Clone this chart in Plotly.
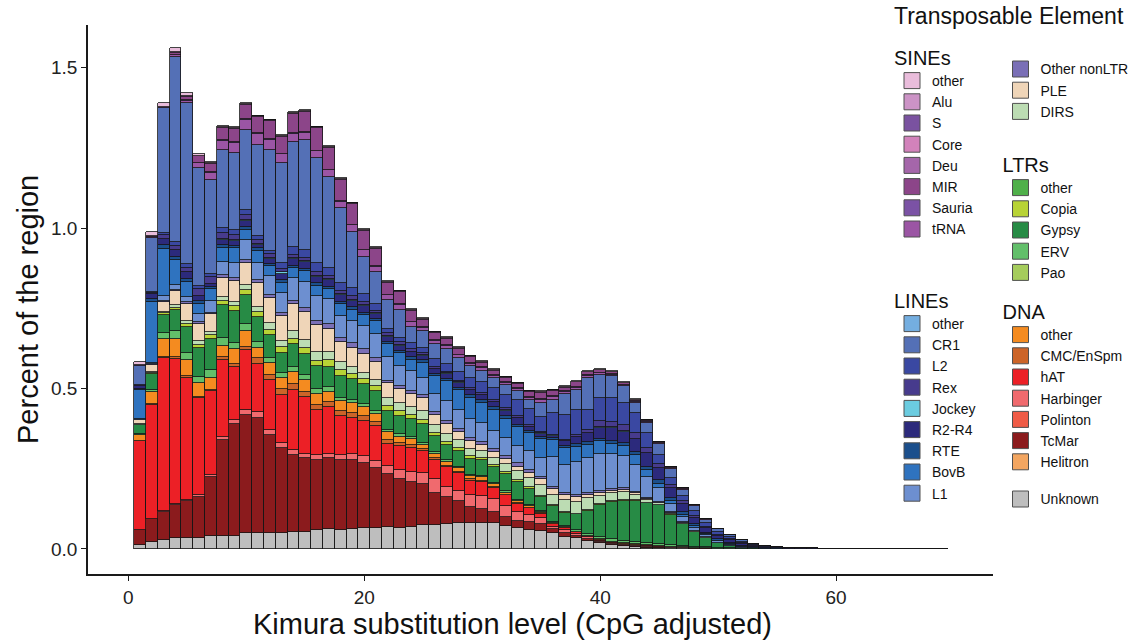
import plotly.graph_objects as go

FONT = "Liberation Sans, Arial, Helvetica, sans-serif"

# Kimura substitution level bins (x)
bins = list(range(1, 70))

# ---- series values (percent of region), bins 1..69 ----
unknown = [.012,.022,.028,.034,.034,.034,.039,.039,.039,.049,
           .049,.049,.049,.054,.054,.059,.061,.059,.062,.064,
           .066,.068,.064,.069,.074,.076,.079,.08,.08,.08,
           .08,.072,.064,.058,.055,.049,.038,.033,.024,.018,
           .013,.009,.006,.004,.003,.002,.002,.001,.001,0,
           0,0,0,0,0,0,0,0,0,0,
           0,0,0,0,0,0,0,0,0]
helitron = [0,0,0,0,0,0,0,0,0,0, 0,0,0,0,0,0,0,0,0,0, 0,0,0,0,0,0,0,0,0,0,
            0,0,0,0,0,0,0,0,0,0, 0,0,0,0,0,0,0,0,0,0, 0,0,0,0,0,0,0,0,0,0, 0,0,0,0,0,0,0,0,0]
tcmar = [.047,.07,.088,.103,.115,.129,.186,.30,.35,.368,
         .358,.306,.265,.239,.228,.218,.221,.218,.215,.205,
         .185,.166,.155,.14,.129,.098,.082,.068,.05,.045,
         .035,.028,.022,.025,.022,.012,.012,.008,.007,.005,
         .004,.004,.003,.003,.003,.002,.002,.001,.001,.001,
         .001,0,0,0,0,0,0,0,0,0,
         0,0,0,0,0,0,0,0,0]
polinton = [0,0,0,0,0,0,0,0,0,0, 0,0,0,0,0,0,0,0,0,0, 0,0,0,0,0,0,0,0,0,0,
            0,0,0,0,0,0,0,0,0,0, 0,0,0,0,0,0,0,0,0,0, 0,0,0,0,0,0,0,0,0,0, 0,0,0,0,0,0,0,0,0]
harbinger = [0,.002,.003,.004,.005,.006,.007,.01,.012,.016,
             .021,.016,.016,.015,.015,.015,.015,.016,.018,.02,
             .022,.026,.028,.031,.033,.045,.033,.034,.038,.04,
             .04,.035,.03,.024,.018,.008,.008,.006,.005,.003,
             .003,.002,.002,.002,.001,.001,.001,.001,0,0,
             0,0,0,0,0,0,0,0,0,0,
             0,0,0,0,0,0,0,0,0]
hat = [.277,.355,.475,.452,.38,.30,.26,.24,.166,.187,
       .15,.156,.15,.187,.177,.14,.146,.12,.114,.11,
       .11,.068,.073,.075,.068,.057,.06,.055,.045,.045,
       .035,.032,.025,.02,.015,.008,.008,.005,.004,.003,
       .002,.002,.002,.002,.002,.001,.001,.001,.001,0,
       0,0,0,0,0,0,0,0,0,0,
       0,0,0,0,0,0,0,0,0]
cmc = [.002,.003,.004,.004,.004,.004,.005,.008,.008,.01,
       .016,.016,.02,.02,.016,.016,.016,.016,.015,.014,
       .013,.012,.01,.009,.007,.006,.005,.004,.004,.003,
       .003,.002,.002,.002,.002,.001,.001,.001,.001,0,
       0,0,0,0,0,0,0,0,0,0,
       0,0,0,0,0,0,0,0,0,0,
       0,0,0,0,0,0,0,0,0]
dna_other = [.016,.036,.055,.057,.05,.043,.036,.036,.047,.05,
             .031,.036,.032,.037,.037,.036,.031,.031,.03,.028,
             .026,.024,.02,.018,.014,.013,.012,.011,.01,.01,
             .008,.007,.006,.004,.002,.002,.002,.001,.001,.001,
             .001,.001,.001,.001,.001,.001,0,0,0,0,
             0,0,0,0,0,0,0,0,0,0,
             0,0,0,0,0,0,0,0,0]
pao = [0,0,0,0,0,0,0,0,0,0, 0,0,0,0,0,0,0,0,0,0, 0,0,0,0,0,0,0,0,0,0,
       0,0,0,0,0,0,0,0,0,0, 0,0,0,0,0,0,0,0,0,0, 0,0,0,0,0,0,0,0,0,0, 0,0,0,0,0,0,0,0,0]
erv = [.004,.008,.02,.024,.024,.021,.026,.026,.021,.021,
       .021,.016,.016,.016,.016,.016,.016,.012,.01,.01,
       .009,.007,.007,.006,.006,.006,.005,.005,.005,.005,
       .005,.005,.005,.005,.004,.004,.004,.004,.004,.008,
       .008,.008,.007,.006,.006,.005,.004,.003,.002,.001,
       .001,0,0,0,0,0,0,0,0,0,
       0,0,0,0,0,0,0,0,0]
gypsy = [.028,.05,.056,.066,.08,.09,.095,.10,.10,.09,
         .076,.072,.062,.07,.065,.07,.062,.067,.065,.063,
         .062,.06,.058,.056,.06,.05,.048,.048,.048,.048,
         .05,.052,.055,.05,.045,.05,.04,.05,.073,.099,
         .115,.125,.13,.125,.12,.095,.068,.045,.03,.018,
         .008,.004,.002,.001,.001,0,0,0,0,0,
         0,0,0,0,0,0,0,0,0]
copia = [.001,.003,.005,.008,.008,.01,.012,.014,.015,.016,
         .018,.016,.018,.016,.018,.016,.02,.018,.016,.016,
         .015,.015,.014,.013,.012,.011,.01,.01,.009,.008,
         .007,.006,.005,.004,.003,.003,.003,.002,.002,.002,
         .002,.002,.002,.001,.001,.001,.001,.001,0,0,
         0,0,0,0,0,0,0,0,0,0,
         0,0,0,0,0,0,0,0,0]
ltr_other = [0,0,0,0,0,0,0,0,0,0, 0,0,0,0,0,0,0,0,0,0, 0,0,0,0,0,0,0,0,0,0,
             0,0,0,0,0,0,0,0,0,0, 0,0,0,0,0,0,0,0,0,0, 0,0,0,0,0,0,0,0,0,0, 0,0,0,0,0,0,0,0,0]
dirs = [.002,.004,.006,.008,.01,.01,.01,.012,.012,.015,
        .015,.02,.02,.025,.025,.028,.025,.025,.022,.02,
        .02,.026,.026,.025,.026,.024,.024,.024,.022,.02,
        .022,.025,.028,.03,.032,.031,.037,.037,.037,.026,
        .025,.026,.016,.01,.005,.003,.002,.001,.001,0,
        0,0,0,0,0,0,0,0,0,0,
        0,0,0,0,0,0,0,0,0]
ple = [.012,.02,.03,.045,.055,.055,.055,.06,.065,.07,
       .073,.078,.077,.083,.088,.083,.073,.062,.06,.058,
       .055,.045,.045,.042,.042,.032,.031,.026,.025,.02,
       .018,.016,.015,.016,.02,.02,.016,.016,.01,.01,
       .008,.006,.004,.003,.002,.001,.001,.001,0,0,
       0,0,0,0,0,0,0,0,0,0,
       0,0,0,0,0,0,0,0,0]
other_nonltr = [.002,.002,.003,.003,.004,.005,.006,.008,.008,.01,
                .01,.012,.012,.012,.012,.012,.015,.015,.014,.014,
                .013,.008,.008,.008,.01,.01,.01,.01,.01,.01,
                .01,.01,.01,.008,.006,.006,.006,.006,.006,.005,
                .005,.004,.004,.003,.003,.002,.002,.001,.001,0,
                0,0,0,0,0,0,0,0,0,0,
                0,0,0,0,0,0,0,0,0]
l1 = [.003,.005,.015,.015,.016,.025,.036,.04,.047,.062,
      .052,.057,.062,.07,.08,.08,.078,.068,.07,.072,
      .075,.073,.062,.062,.052,.055,.062,.058,.06,.06,
      .055,.057,.055,.06,.061,.093,.087,.103,.108,.115,
      .11,.1,.085,.065,.042,.025,.016,.01,.006,.004,
      .003,.002,.001,0,0,0,0,0,0,0,
      0,0,0,0,0,0,0,0,0]
bovb = [.088,.19,.146,.078,.047,.032,.036,.046,.047,.03,
        .039,.031,.031,.031,.035,.031,.031,.035,.035,.035,
        .038,.04,.04,.036,.047,.055,.062,.062,.065,.062,
        .065,.058,.057,.055,.058,.052,.053,.047,.042,.041,
        .032,.031,.03,.022,.015,.01,.007,.005,.003,.002,
        .002,.001,0,0,0,0,0,0,0,0,
        0,0,0,0,0,0,0,0,0]
rte = [.006,.01,.012,.01,.01,.008,.006,.008,.008,.008,
       .008,.008,.008,.008,.008,.008,.008,.008,.008,.008,
       .008,.008,.008,.008,.008,.008,.008,.008,.008,.008,
       .008,.008,.008,.007,.006,.006,.007,.008,.008,.008,
       .01,.01,.01,.01,.012,.01,.008,.006,.005,.004,
       .003,.002,.002,.001,.001,.001,.001,.001,0,0,
       0,0,0,0,0,0,0,0,0]
r2r4 = [.008,.016,.02,.02,.02,.015,.01,.015,.015,.02,
        .01,.015,.02,.02,.02,.02,.02,.02,.02,.02,
        .015,.016,.016,.015,.014,.014,.014,.014,.015,.015,
        .016,.018,.02,.012,.01,.008,.014,.022,.03,.034,
        .04,.036,.04,.042,.035,.03,.024,.02,.014,.012,
        .01,.008,.005,.004,.003,.002,.002,.001,.001,.001,
        .001,.001,.001,.001,.001,.001,.001,.001,.001]
jockey = [0,0,.001,.001,.002,.002,.002,.003,.003,.004,
          .005,.004,.004,.004,.004,.004,.004,.004,.003,.003,
          .003,.002,.002,.002,.002,.002,.002,.002,.002,.002,
          .002,.002,.002,.001,.001,.001,.001,.001,.001,.001,
          .001,.001,.001,.001,.001,.001,.001,.001,0,0,
          0,0,0,0,0,0,0,0,0,0,
          0,0,0,0,0,0,0,0,0]
rex = [.002,.003,.01,.012,.012,.02,.02,.02,.015,.015,
       .01,.01,.01,.01,.01,.01,.01,.01,.01,.01,
       .008,.008,.008,.008,.006,.006,.006,.006,.006,.006,
       .006,.006,.006,.005,.004,.002,.004,.005,.008,.02,
       .018,.02,.018,.015,.012,.01,.008,.006,.004,.003,
       .002,.002,.001,.001,0,0,0,0,0,0,
       0,0,0,0,0,0,0,0,0]
l2 = [.002,.003,.008,.012,.012,.012,.01,.015,.015,.015,
      .012,.012,.02,.025,.025,.03,.025,.025,.025,.025,
      .02,.014,.015,.018,.015,.025,.025,.028,.03,.033,
      .036,.04,.05,.05,.047,.067,.078,.078,.062,.073,
      .073,.067,.062,.045,.03,.022,.018,.014,.012,.008,
      .006,.004,.003,.002,.001,.001,0,0,0,0,
      0,0,0,0,0,0,0,0,0]
cr1 = [.058,.167,.388,.578,.501,.365,.293,.243,.24,.25,
       .285,.314,.31,.327,.342,.325,.283,.233,.177,.116,
       .099,.089,.086,.051,.055,.046,.046,.041,.038,.036,
       .032,.032,.028,.027,.044,.042,.063,.062,.1,.07,
       .068,.053,.033,.034,.034,.027,.019,.016,.01,.009,
       .007,.004,.003,.001,0,0,0,0,0,0,
       0,0,0,0,0,0,0,0,0]
line_other = [0,0,0,0,0,0,0,0,0,0, 0,0,0,0,0,0,0,0,0,0, 0,0,0,0,0,0,0,0,0,0,
              0,0,0,0,0,0,0,0,0,0, 0,0,0,0,0,0,0,0,0,0, 0,0,0,0,0,0,0,0,0,0, 0,0,0,0,0,0,0,0,0]
trna = [.001,.002,.002,.004,.008,.016,.022,.03,.032,.032,
        .035,.032,.028,.025,.022,.022,.02,.02,.02,.02,
        .018,.015,.015,.014,.01,.01,.009,.009,.008,.008,
        .007,.007,.007,.008,.01,.009,.007,.008,.006,.005,
        .005,.004,.003,.003,.002,.002,.001,.001,.001,0,
        0,0,0,0,0,0,0,0,0,0,
        0,0,0,0,0,0,0,0,0]
sauria = [.001,.001,.001,.002,.002,.002,.002,.002,.002,.002,
          .002,.002,.002,.002,.002,.002,.002,.002,.002,.002,
          .002,.002,.002,.002,.002,.002,.002,.002,.002,.002,
          .002,.002,.002,.002,.002,.002,.002,.002,.002,.001,
          .001,.001,.001,.001,0,0,0,0,0,0,
          0,0,0,0,0,0,0,0,0,0,
          0,0,0,0,0,0,0,0,0]
mir = [.001,.003,.003,.007,.011,.02,.025,.038,.043,.045,
       .049,.055,.053,.061,.063,.07,.068,.066,.063,.058,
       .053,.038,.038,.034,.023,.021,.02,.018,.017,.015,
       .014,.013,.012,.016,.02,.017,.012,.014,.01,.009,
       .008,.005,.004,.003,.003,.003,.003,.002,.001,.001,
       .001,.001,0,0,0,0,0,0,0,0,
       0,0,0,0,0,0,0,0,0]
deu = [0,0,0,.001,.002,.002,.003,.003,.003,.003,
       .003,.003,.003,.003,.003,.003,.003,.003,.003,.003,
       .003,.003,.003,.003,.003,.003,.003,.003,.003,.003,
       .003,.002,.002,.002,.002,.002,.002,.002,.002,.002,
       .001,.001,.001,0,0,0,0,0,0,0,
       0,0,0,0,0,0,0,0,0,0,
       0,0,0,0,0,0,0,0,0]
core = [0,0,0,0,0,0,0,0,0,0, 0,0,0,0,0,0,0,0,0,0, 0,0,0,0,0,0,0,0,0,0,
        0,0,0,0,0,0,0,0,0,0, 0,0,0,0,0,0,0,0,0,0, 0,0,0,0,0,0,0,0,0,0, 0,0,0,0,0,0,0,0,0]
s_sine = [0,0,0,0,0,0,0,0,0,0, 0,0,0,0,0,0,0,0,0,0, 0,0,0,0,0,0,0,0,0,0,
          0,0,0,0,0,0,0,0,0,0, 0,0,0,0,0,0,0,0,0,0, 0,0,0,0,0,0,0,0,0,0, 0,0,0,0,0,0,0,0,0]
alu = [0,0,0,0,0,0,0,0,0,0, 0,0,0,0,0,0,0,0,0,0, 0,0,0,0,0,0,0,0,0,0,
       0,0,0,0,0,0,0,0,0,0, 0,0,0,0,0,0,0,0,0,0, 0,0,0,0,0,0,0,0,0,0, 0,0,0,0,0,0,0,0,0]
sine_other = [.01,.013,.011,.012,.008,.004,.003,.002,.002,.002,
              .002,.002,.002,.002,.002,.002,.002,.002,.002,.002,
              .002,.002,.002,.002,.002,.002,.002,.002,.002,.002,
              .002,.002,.002,.002,.002,.002,.002,.002,.002,.002,
              .002,.001,.001,.001,.001,0,0,0,0,0,
              0,0,0,0,0,0,0,0,0,0,
              0,0,0,0,0,0,0,0,0]

# ---- categories: (key, legend label, values, colour, legend id) stacked bottom -> top ----
stack = [
    ("unknown", "Unknown", unknown, "#bebebe", "legend6"),
    ("helitron", "Helitron", helitron, "#f3a661", "legend5"),
    ("tcmar", "TcMar", tcmar, "#8b1b1d", "legend5"),
    ("polinton", "Polinton", polinton, "#ef5b46", "legend5"),
    ("harbinger", "Harbinger", harbinger, "#f06a6e", "legend5"),
    ("hat", "hAT", hat, "#ec2026", "legend5"),
    ("cmc", "CMC/EnSpm", cmc, "#cc6428", "legend5"),
    ("dna_other", "other", dna_other, "#f48b20", "legend5"),
    ("pao", "Pao", pao, "#a5cc5c", "legend4"),
    ("erv", "ERV", erv, "#62bf6a", "legend4"),
    ("gypsy", "Gypsy", gypsy, "#278b45", "legend4"),
    ("copia", "Copia", copia, "#b8d335", "legend4"),
    ("ltr_other", "other", ltr_other, "#4fb04a", "legend4"),
    ("dirs", "DIRS", dirs, "#bcdcb3", "legend3"),
    ("ple", "PLE", ple, "#efd5b8", "legend3"),
    ("other_nonltr", "Other nonLTR", other_nonltr, "#7a6fb6", "legend3"),
    ("l1", "L1", l1, "#6d8fd0", "legend2"),
    ("bovb", "BovB", bovb, "#2f73bf", "legend2"),
    ("rte", "RTE", rte, "#1b4f8c", "legend2"),
    ("r2r4", "R2-R4", r2r4, "#2c2a7c", "legend2"),
    ("jockey", "Jockey", jockey, "#6bcce0", "legend2"),
    ("rex", "Rex", rex, "#473b8d", "legend2"),
    ("l2", "L2", l2, "#3a48a2", "legend2"),
    ("cr1", "CR1", cr1, "#5470b6", "legend2"),
    ("line_other", "other", line_other, "#74aee0", "legend2"),
    ("trna", "tRNA", trna, "#9b55a4", "legend"),
    ("sauria", "Sauria", sauria, "#7b52a5", "legend"),
    ("mir", "MIR", mir, "#8c4589", "legend"),
    ("deu", "Deu", deu, "#a566aa", "legend"),
    ("core", "Core", core, "#d282bb", "legend"),
    ("s_sine", "S", s_sine, "#7a52a0", "legend"),
    ("alu", "Alu", alu, "#cc93c6", "legend"),
    ("sine_other", "other", sine_other, "#e9bcdb", "legend"),
]

fig = go.Figure()
for key, label, vals, col, leg in stack:
    fig.add_trace(go.Bar(
        x=bins, y=vals, name=label, width=1,
        marker=dict(color=col, line=dict(color="#151515", width=0.8)),
        showlegend=False, legendgroup=key,
        hovertemplate=label + ": %{y}<extra></extra>",
    ))

# legend entries (displayed top -> bottom, i.e. reverse of stacking)
for key, label, vals, col, leg in reversed(stack):
    fig.add_trace(go.Scatter(
        x=[None], y=[None], mode="markers", name=label,
        marker=dict(symbol="square", size=16, color=col, line=dict(color="#505050", width=1)),
        legend=leg, legendgroup=key, showlegend=True, hoverinfo="skip",
    ))


def px2paper_x(px):
    return (px - 88) / 905.0


def px2paper_y(py):
    return (574 - py) / 549.0


def make_legend(xpx, ypx, title):
    d = dict(
        x=px2paper_x(xpx), y=px2paper_y(ypx), xref="paper", yref="paper",
        xanchor="left", yanchor="top", bgcolor="rgba(0,0,0,0)", borderwidth=0,
        font=dict(family=FONT, size=14, color="#111111"),
        itemsizing="trace", traceorder="normal", tracegroupgap=0,
    )
    d["title"] = dict(text=title, font=dict(family=FONT, size=20, color="#111111"))
    return d


fig.update_layout(
    width=1133, height=644,
    barmode="stack", bargap=0,
    plot_bgcolor="white", paper_bgcolor="white",
    margin=dict(l=88, r=140, t=25, b=70, autoexpand=False),
    font=dict(family=FONT, color="#222222"),
    legend=make_legend(892, 39, "SINEs"),
    legend2=make_legend(892, 282, "LINEs"),
    legend3=make_legend(1000.5, 53.4, ""),
    legend4=make_legend(1000.5, 146, "LTRs"),
    legend5=make_legend(1000.5, 293, "DNA"),
    legend6=make_legend(1000.5, 483.4, ""),
    xaxis=dict(
        range=[-3.42, 73.3], showgrid=False, zeroline=False,
        showline=True, linecolor="#1a1a1a", linewidth=1.6,
        ticks="outside", ticklen=5, tickwidth=1.3, tickcolor="#1a1a1a",
        tickvals=[0, 20, 40, 60], tickfont=dict(family=FONT, size=19, color="#222222"),
    ),
    yaxis=dict(
        range=[-0.078, 1.633], showgrid=False, zeroline=False,
        showline=True, linecolor="#1a1a1a", linewidth=1.6,
        ticks="outside", ticklen=5, tickwidth=1.3, tickcolor="#1a1a1a",
        tickvals=[0, 0.5, 1.0, 1.5], ticktext=["0.0", "0.5", "1.0", "1.5"],
        tickfont=dict(family=FONT, size=19, color="#222222"),
    ),
    annotations=[
        dict(text="Kimura substitution level (CpG adjusted)", x=px2paper_x(512), y=px2paper_y(624),
             xref="paper", yref="paper", showarrow=False, xanchor="center", yanchor="middle",
             font=dict(family=FONT, size=29, color="#111111")),
        dict(text="Percent of the region", x=px2paper_x(28), y=px2paper_y(310),
             xref="paper", yref="paper", showarrow=False, xanchor="center", yanchor="middle",
             textangle=-90, font=dict(family=FONT, size=29, color="#111111")),
        dict(text="Transposable Element", x=px2paper_x(1008.5), y=px2paper_y(16),
             xref="paper", yref="paper", showarrow=False, xanchor="center", yanchor="middle",
             font=dict(family=FONT, size=23, color="#111111")),
    ],
)

fig.write_html("out.html")
